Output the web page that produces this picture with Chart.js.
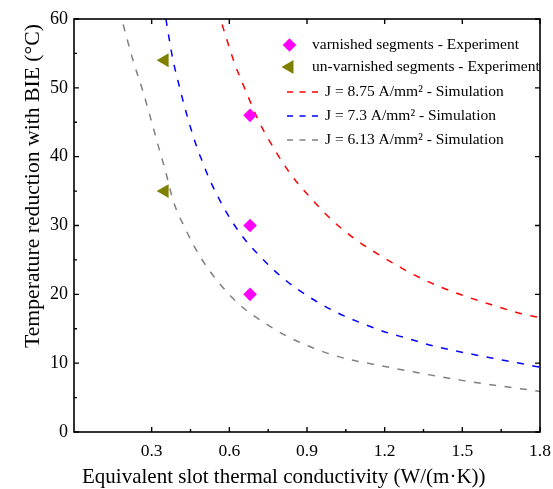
<!DOCTYPE html>
<html>
<head>
<meta charset="utf-8">
<script src="https://cdn.jsdelivr.net/npm/chart.js@4/dist/chart.umd.min.js"></script>
<style>
  html, body { margin: 0; padding: 0; background: #ffffff; }
  #wrap { width: 553px; height: 489px; position: relative; }
</style>
</head>
<body>
<div id="wrap"><canvas id="c" width="553" height="489"></canvas></div>
<script>
// ---------- data ----------
const xTitle = 'Equivalent slot thermal conductivity (W/(m\u00B7K))';
const yTitle = 'Temperature reduction with BIE (\u00B0C)';

const xTickValues = [0.3, 0.6, 0.9, 1.2, 1.5, 1.8];
const xMinorTicks = [0.45, 0.75, 1.05, 1.35, 1.65];
const yTickValues = [0, 10, 20, 30, 40, 50, 60];
const yMinorTicks = [5, 15, 25, 35, 45, 55];

const varnishedLabel = 'varnished segments - Experiment';
const varnishedX = [0.68, 0.68, 0.68];
const varnishedY = [46, 30, 20];

const unvarnishedLabel = 'un-varnished segments - Experiment';
const unvarnishedX = [0.35, 0.35];
const unvarnishedY = [54, 35];

const redLabel = 'J = 8.75 A/mm\u00B2 - Simulation';
const redX = [0.572, 0.577, 0.618, 0.665, 0.712, 0.738, 0.834, 0.912, 0.996, 1.09, 1.189, 1.285, 1.388, 1.498, 1.607, 1.717, 1.8];
const redY = [59.2, 58.6, 53.8, 49.4, 45.3, 43.4, 37.6, 34.1, 30.8, 27.9, 25.5, 23.4, 21.5, 19.9, 18.55, 17.3, 16.6];

const blueLabel = 'J = 7.3 A/mm\u00B2 - Simulation';
const blueX = [0.355, 0.38, 0.407, 0.438, 0.476, 0.499, 0.519, 0.577, 0.641, 0.719, 0.809, 0.905, 1.008, 1.111, 1.221, 1.279, 1.388, 1.498, 1.613, 1.723, 1.8];
const blueY = [60, 54.5, 50.2, 45.8, 41.2, 39.0, 37.1, 32.7, 28.9, 25.5, 22.3, 19.7, 17.5, 15.8, 14.3, 13.7, 12.5, 11.6, 10.75, 9.98, 9.4];

const grayLabel = 'J = 6.13 A/mm\u00B2 - Simulation';
const grayX = [0.19, 0.228, 0.267, 0.301, 0.332, 0.352, 0.384, 0.429, 0.487, 0.557, 0.641, 0.738, 0.834, 1.0, 1.232, 1.498, 1.8];
const grayY = [59.2, 54.0, 49.4, 44.9, 40.7, 38.1, 33.5, 29.6, 25.5, 21.8, 18.45, 15.8, 13.7, 11.2, 9.3, 7.5, 5.9];

// ---------- build ----------
const pts = (xs, ys) => xs.map((x, i) => ({ x: x, y: ys[i] }));
const SERIF = '"Liberation Serif", "Times New Roman", serif';

function lineDs(label, xs, ys, color) {
  return {
    label: label, data: pts(xs, ys), showLine: true,
    borderColor: color, backgroundColor: color, borderWidth: 1.5,
    borderDash: [7, 8.5], pointRadius: 0, pointHoverRadius: 0,
    cubicInterpolationMode: 'monotone', fill: false, clip: 0
  };
}

const datasets = [
  { label: varnishedLabel, data: pts(varnishedX, varnishedY), pointStyle: 'rectRot',
    pointRadius: 6.8, backgroundColor: '#ff00ff', borderColor: '#ff00ff', borderWidth: 0, showLine: false },
  { label: unvarnishedLabel, data: pts(unvarnishedX, unvarnishedY), pointStyle: 'triangle', rotation: -90,
    pointRadius: 8, backgroundColor: '#808000', borderColor: '#808000', borderWidth: 0, showLine: false },
  lineDs(redLabel, redX, redY, '#ff0000'),
  lineDs(blueLabel, blueX, blueY, '#0000ff'),
  lineDs(grayLabel, grayX, grayY, '#808080')
];

const framePlugin = {
  id: 'frame',
  afterDraw(chart) {
    const ctx = chart.ctx, a = chart.chartArea;
    const xs = chart.scales.x, ys = chart.scales.y;
    ctx.save();
    ctx.strokeStyle = '#000';
    ctx.lineWidth = 1.6;
    ctx.setLineDash([]);
    ctx.strokeRect(a.left, a.top, a.right - a.left, a.bottom - a.top);
    ctx.lineWidth = 1.4;
    ctx.beginPath();
    const maj = 5, min = 3;
    xTickValues.forEach(v => {
      const p = xs.getPixelForValue(v);
      ctx.moveTo(p, a.bottom); ctx.lineTo(p, a.bottom - maj);
      ctx.moveTo(p, a.top); ctx.lineTo(p, a.top + maj);
    });
    xMinorTicks.forEach(v => {
      const p = xs.getPixelForValue(v);
      ctx.moveTo(p, a.bottom); ctx.lineTo(p, a.bottom - min);
    });
    yTickValues.forEach(v => {
      const p = ys.getPixelForValue(v);
      ctx.moveTo(a.left, p); ctx.lineTo(a.left + maj, p);
      ctx.moveTo(a.right, p); ctx.lineTo(a.right - maj, p);
    });
    yMinorTicks.forEach(v => {
      const p = ys.getPixelForValue(v);
      ctx.moveTo(a.left, p); ctx.lineTo(a.left + min, p);
    });
    ctx.stroke();

    // axis titles
    ctx.fillStyle = '#000';
    ctx.textAlign = 'left';
    ctx.textBaseline = 'alphabetic';
    ctx.font = '21px ' + SERIF;
    ctx.fillText(xTitle, 82, 483);
    ctx.save();
    ctx.font = '21.7px ' + SERIF;
    ctx.translate(39, 348);
    ctx.rotate(-Math.PI / 2);
    ctx.fillText(yTitle, 0, 0);
    ctx.restore();

    // legend
    const rows = [45, 67, 92, 116, 140];
    ctx.font = '15.5px ' + SERIF;
    ctx.textBaseline = 'middle';
    chart.data.datasets.forEach((ds, i) => {
      const y = rows[i];
      if (ds.showLine) {
        ctx.save();
        ctx.strokeStyle = ds.borderColor;
        ctx.lineWidth = 1.5;
        ctx.setLineDash([6, 6.5]);
        ctx.beginPath();
        ctx.moveTo(287, y); ctx.lineTo(324, y);
        ctx.stroke();
        ctx.restore();
        ctx.fillStyle = '#000';
        ctx.fillText(ds.label, 325, y);
      } else {
        ctx.save();
        ctx.fillStyle = ds.backgroundColor;
        ctx.strokeStyle = ds.borderColor;
        ctx.lineWidth = 0.01;
        Chart.helpers.drawPoint(ctx, {
          pointStyle: ds.pointStyle, rotation: ds.rotation || 0,
          radius: ds.pointRadius, borderWidth: 0
        }, 289.5, y);
        ctx.restore();
        ctx.fillStyle = '#000';
        ctx.fillText(ds.label, 312, y);
      }
    });
    ctx.restore();
  }
};

const chart = new Chart(document.getElementById('c'), {
  type: 'scatter',
  data: { datasets: datasets },
  plugins: [framePlugin],
  options: {
    responsive: false,
    animation: false,
    events: [],
    layout: { padding: { left: 0, top: 19, right: 13, bottom: 0 } },
    plugins: { legend: { display: false }, tooltip: { enabled: false } },
    scales: {
      x: {
        type: 'linear', min: 0, max: 1.8,
        afterBuildTicks: s => { s.ticks = xTickValues.map(v => ({ value: v })); },
        afterFit: s => { s.height = 57; s.paddingLeft = 0; s.paddingRight = 0; },
        grid: { display: false, drawTicks: false },
        border: { display: false },
        ticks: { color: '#000', padding: 9, font: { family: SERIF, size: 17.5 },
                 callback: v => v.toFixed(1), maxRotation: 0, autoSkip: false }
      },
      y: {
        type: 'linear', min: 0, max: 60,
        afterBuildTicks: s => { s.ticks = yTickValues.map(v => ({ value: v })); },
        afterFit: s => { s.width = 74; s.paddingTop = 0; s.paddingBottom = 0; },
        grid: { display: false, drawTicks: false },
        border: { display: false },
        ticks: { color: '#000', padding: 6, font: { family: SERIF, size: 18 },
                 callback: v => String(v), autoSkip: false }
      }
    }
  }
});
</script>
</body>
</html>
